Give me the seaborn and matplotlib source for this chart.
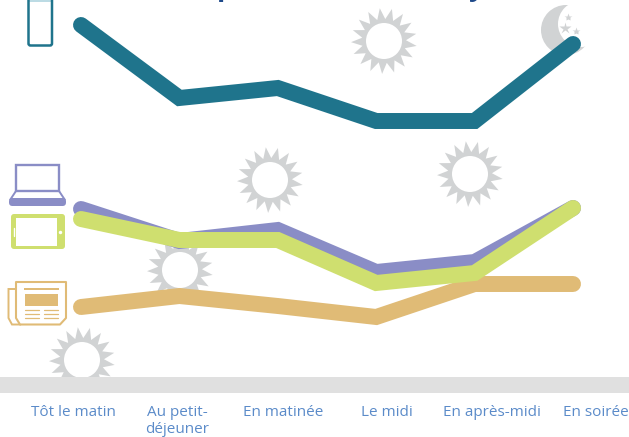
# %%
import numpy as np
import pandas as pd
import matplotlib
matplotlib.use("Agg")
import matplotlib.pyplot as plt
from matplotlib.patches import Circle, FancyBboxPatch, Polygon, Rectangle
import seaborn as sns

# --- DATA ---
moments = ["Tôt le matin", "Au petit-\ndéjeuner", "En matinée", "Le midi", "En après-midi", "En soirée"]
# hauteur des courbes au-dessus de la bande grise
smartphone = [352, 279, 289, 256, 256, 333]
ordinateur = [168, 136, 147, 105, 115, 169]
tablette = [158, 137, 137, 94, 104, 169]
presse = [70, 81, 71, 60, 93, 93]

# --- COULEURS ---
TEAL = "#1f748c"
PURPLE = "#8a8dc6"
GREEN = "#cfdf6f"
ORANGE = "#e0bb76"
SUN = "#d1d3d4"
BAND = "#e0e0e0"
LABEL = "#5b8bc9"
TITLE = "#1f4a8a"

sns.set_theme(style="white")
plt.rcParams["font.family"] = ["Open Sans", "DejaVu Sans"]

W, H = 629, 437
fig = plt.figure(figsize=(W / 100, H / 100), dpi=100, facecolor="white")

# --- FOND EN PIXELS (soleils, lune, icones) ---
bg = fig.add_axes([0, 0, 1, 1], zorder=0)
bg.set_xlim(0, W)
bg.set_ylim(H, 0)
bg.axis("off")


def sun(cx, cy, n=17, r_out=33, r_in=22, rot=0.15):
    ang = np.linspace(0, 2 * np.pi, 2 * n, endpoint=False) + rot
    rad = np.where(np.arange(2 * n) % 2 == 0, r_out, r_in)
    bg.add_patch(Polygon(np.c_[cx + rad * np.cos(ang), cy + rad * np.sin(ang)], fc=SUN, ec="none"))
    bg.add_patch(Circle((cx, cy), 18, fc="white", ec="none"))


def rbox(x0, y0, x1, y1, r=2, **kw):
    bg.add_patch(FancyBboxPatch((x0 + r, y0 + r), x1 - x0 - 2 * r, y1 - y0 - 2 * r,
                                boxstyle=f"round,pad={r},rounding_size={r}", **kw))


for c in [(270, 180), (384, 41), (470, 174), (180, 270), (82, 360)]:
    sun(*c)

# lune
bg.add_patch(Circle((566, 30), 25, fc=SUN, ec="none"))
bg.add_patch(Circle((581, 24), 23, fc="white", ec="none"))
bg.plot([568, 575.5], [17, 31], ls="none", marker="*", mec="none", mfc=SUN, ms=6)
bg.plot([565], [28], ls="none", marker="*", mec="none", mfc=SUN, ms=9)

# telephone
bg.add_patch(Rectangle((29, 0), 23, 2, fc="#bcdbe4", ec="none"))
rbox(28.5, -6, 52, 45.5, r=2, fc="none", ec=TEAL, lw=1.8)

# ordinateur
bg.add_patch(Rectangle((16, 164.5), 43, 26, fc="white", ec=PURPLE, lw=1.7))
bg.add_patch(Polygon([(16, 191), (10, 200), (65, 200), (59, 191)], fc="none", ec=PURPLE, lw=1.4))
rbox(9, 198, 66, 206, r=3.5, fc=PURPLE, ec="none")

# tablette
rbox(11, 214, 65, 249, r=3, fc=GREEN, ec="none")
bg.add_patch(Rectangle((16, 218), 41, 28, fc="white", ec="none"))
bg.plot([13.5, 13.5], [228, 236], color="white", lw=1)
bg.plot([60], [232], marker="o", ms=2.5, mfc="white", mec="none")

# journal
bg.add_patch(Polygon([(16, 289), (8.5, 289), (8.5, 318), (12, 324.5), (20, 324.5)], fc="white", ec=ORANGE, lw=1.4))
bg.add_patch(Polygon([(16, 282), (66, 282), (66, 318), (60, 324.5), (20, 324.5), (16, 318)],
                     fc="white", ec=ORANGE, lw=1.5, joinstyle="round"))
bg.add_patch(Rectangle((24, 288), 35, 2, fc=ORANGE, ec="none"))
bg.add_patch(Rectangle((25, 294), 33, 12, fc=ORANGE, ec="none"))
for yy in [310, 314, 317.5]:
    bg.plot([25, 39], [yy, yy], color=ORANGE, lw=0.9)
    bg.plot([44, 58], [yy, yy], color=ORANGE, lw=0.9)

# titre coupe par le haut de l'image
bg.text(226, -5, "p", color=TITLE, fontsize=20, fontweight="bold", ha="center", va="baseline", clip_on=False)
bg.text(477, -5, "y", color=TITLE, fontsize=20, fontweight="bold", ha="center", va="baseline", clip_on=False)

# --- COURBES ---
BAND_H = 16
ax = fig.add_axes([0, (H - 377 - BAND_H) / H, 1, (377 + BAND_H) / H], zorder=1)
ax.patch.set_alpha(0)

x = list(range(len(moments)))
df = pd.DataFrame({"x": x, "presse": presse, "ordinateur": ordinateur,
                   "tablette": tablette, "smartphone": smartphone})

ax.axhspan(-BAND_H, 0, color=BAND, lw=0, zorder=1.5)
for name, col in [("presse", ORANGE), ("ordinateur", PURPLE), ("tablette", GREEN), ("smartphone", TEAL)]:
    sns.lineplot(data=df, x="x", y=name, color=col, linewidth=11.5, ax=ax,
                 solid_capstyle="round", solid_joinstyle="miter", zorder=2)

ax.set_xlim(-81 / 98.4, (W - 81) / 98.4)
ax.set_ylim(-BAND_H, 377)
ax.set_xlabel("")
ax.set_ylabel("")
ax.set_yticks([])
# les libelles ne sont pas centres sur les points dans l'original
ax.set_xticks([-0.08, 0.98, 2.05, 3.11, 4.18, 5.23])
ax.set_xticklabels(moments, fontsize=11, color=LABEL, linespacing=1.1)
ax.tick_params(axis="x", length=0, pad=9)
sns.despine(ax=ax, left=True, bottom=True)
for lab in ax.get_xticklabels():
    lab.set_verticalalignment("top")

fig.savefig("out.png", dpi=100)
